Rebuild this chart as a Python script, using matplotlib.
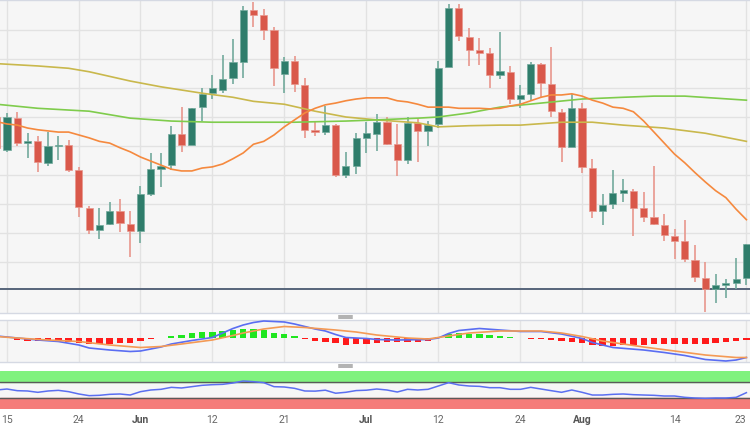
import numpy as np
import pandas as pd
import matplotlib
matplotlib.use('Agg')
import matplotlib.pyplot as plt
from matplotlib.lines import Line2D

plt.rcParams['font.family'] = ['Roboto', 'DejaVu Sans']

# daily candles, 12 May - 23 Aug 2023
dates = pd.bdate_range('2023-05-12', '2023-08-23')

opens = [0.6700, 0.6643, 0.6698, 0.6655, 0.6658, 0.6621, 0.6650, 0.6652, 0.6609, 0.6543, 0.6505, 0.6516, 0.6538, 0.6516,
         0.6504, 0.6567, 0.6610, 0.6617, 0.6671, 0.6652, 0.6717, 0.6741, 0.6747, 0.6767, 0.6795, 0.6884, 0.6876, 0.6850,
         0.6774, 0.6797, 0.6755, 0.6678, 0.6674, 0.6686, 0.6600, 0.6616,
         0.6664, 0.6671, 0.6691, 0.6653, 0.6626, 0.6690, 0.6676, 0.6688, 0.6786, 0.6888, 0.6838, 0.6816, 0.6810, 0.6773,
         0.6778, 0.6731, 0.6740, 0.6791, 0.6757, 0.6709, 0.6648,
         0.6715, 0.6612, 0.6538, 0.6550, 0.6569, 0.6573, 0.6543, 0.6528, 0.6514, 0.6495, 0.6486, 0.6454, 0.6423, 0.6403,
         0.6410, 0.6414, 0.6423]
highs = [0.6707, 0.6707, 0.6709, 0.6672, 0.6667, 0.6674, 0.6667, 0.6660, 0.6614, 0.6547, 0.6543, 0.6553, 0.6559, 0.6538,
         0.6581, 0.6638, 0.6638, 0.6684, 0.6717, 0.6715, 0.6750, 0.6773, 0.6807, 0.6835, 0.6891, 0.6898, 0.6886, 0.6855,
         0.6803, 0.6805, 0.6767, 0.6691, 0.6719, 0.6688, 0.6640, 0.6672,
         0.6691, 0.6705, 0.6700, 0.6688, 0.6700, 0.6697, 0.6693, 0.6797, 0.6895, 0.6895, 0.6854, 0.6836, 0.6819, 0.6847,
         0.6788, 0.6755, 0.6795, 0.6793, 0.6821, 0.6714, 0.6740,
         0.6724, 0.6628, 0.6567, 0.6609, 0.6593, 0.6576, 0.6571, 0.6616, 0.6533, 0.6507, 0.6523, 0.6479, 0.6450, 0.6429,
         0.6421, 0.6457, 0.6481]
lows = [0.6643, 0.6640, 0.6650, 0.6629, 0.6605, 0.6616, 0.6626, 0.6605, 0.6528, 0.6498, 0.6490, 0.6514, 0.6502, 0.6459,
        0.6483, 0.6564, 0.6579, 0.6609, 0.6640, 0.6652, 0.6693, 0.6731, 0.6741, 0.6757, 0.6767, 0.6855, 0.6833, 0.6753,
        0.6741, 0.6743, 0.6664, 0.6667, 0.6669, 0.6597, 0.6595, 0.6602,
        0.6638, 0.6641, 0.6652, 0.6598, 0.6619, 0.6622, 0.6650, 0.6681, 0.6786, 0.6831, 0.6788, 0.6790, 0.6750, 0.6765,
        0.6722, 0.6715, 0.6729, 0.6733, 0.6700, 0.6622, 0.6648,
        0.6604, 0.6526, 0.6514, 0.6541, 0.6553, 0.6495, 0.6519, 0.6514, 0.6486, 0.6455, 0.6450, 0.6416, 0.6364, 0.6379,
        0.6388, 0.6403, 0.6410]
closes = [0.6647, 0.6700, 0.6655, 0.6658, 0.6622, 0.6650, 0.6652, 0.6609, 0.6545, 0.6505, 0.6514, 0.6538, 0.6517, 0.6504,
          0.6567, 0.6610, 0.6616, 0.6671, 0.6652, 0.6715, 0.6740, 0.6750, 0.6765, 0.6795, 0.6884, 0.6876, 0.6850, 0.6784,
          0.6797, 0.6757, 0.6678, 0.6674, 0.6686, 0.6600, 0.6616, 0.6664,
          0.6672, 0.6691, 0.6653, 0.6626, 0.6690, 0.6676, 0.6686, 0.6784, 0.6888, 0.6840, 0.6816, 0.6810, 0.6773, 0.6779,
          0.6731, 0.6738, 0.6791, 0.6759, 0.6710, 0.6648, 0.6715,
          0.6614, 0.6538, 0.6548, 0.6569, 0.6574, 0.6543, 0.6528, 0.6516, 0.6497, 0.6486, 0.6455, 0.6424, 0.6403, 0.6410,
          0.6414, 0.6421, 0.6481]

# moving averages (20 / 100 / 200)
sma20 = [0.6692, 0.6688, 0.6686, 0.6681, 0.6678, 0.6676, 0.6674, 0.6674, 0.6669, 0.6664, 0.6658, 0.6655, 0.6647, 0.6640,
         0.6631, 0.6624, 0.6617, 0.6610, 0.6607, 0.6607, 0.6612, 0.6614, 0.6619, 0.6628, 0.6638, 0.6653, 0.6658, 0.6669,
         0.6683, 0.6695, 0.6707, 0.6715, 0.6721, 0.6724, 0.6728, 0.6731, 0.6733, 0.6733, 0.6733, 0.6728, 0.6726, 0.6722,
         0.6717, 0.6717, 0.6717, 0.6715, 0.6715, 0.6715, 0.6714, 0.6715, 0.6719, 0.6722, 0.6728, 0.6734, 0.6738, 0.6738,
         0.6740, 0.6736, 0.6729, 0.6724, 0.6717, 0.6715, 0.6709, 0.6693, 0.6674, 0.6655, 0.6636, 0.6621, 0.6604, 0.6588,
         0.6573, 0.6561, 0.6541, 0.6523]
sma100_pos = [0, 4, 9, 13, 17, 21, 29, 34, 37, 41, 43, 46, 49, 53, 57, 61, 64, 67, 73]
sma100 = [0.6722, 0.6715, 0.6710, 0.6698, 0.6693, 0.6691, 0.6691, 0.6693, 0.6695, 0.6698, 0.6700, 0.6707, 0.6717,
          0.6724, 0.6731, 0.6734, 0.6736, 0.6736, 0.6729]
sma200_pos = [0, 4, 7, 9, 13, 16, 20, 23, 25, 28, 31, 34, 37, 41, 43, 46, 49, 51, 55, 58, 61, 65, 69, 73]
sma200 = [0.6792, 0.6788, 0.6784, 0.6778, 0.6762, 0.6752, 0.6741, 0.6734, 0.6727, 0.6722, 0.6710, 0.6700, 0.6695,
          0.6690, 0.6683, 0.6685, 0.6686, 0.6686, 0.6691, 0.6691, 0.6686, 0.6681, 0.6672, 0.6658]
support_level = 0.6403
grid_levels = [0.6450, 0.6500, 0.6550, 0.6600, 0.6650, 0.6700, 0.6750, 0.6800, 0.6850]

# MACD panel
macd_hist = [0.0002, 0.0001, -0.0003, -0.0005, -0.0005, -0.0005, -0.0006, -0.0007, -0.0009, -0.0011, -0.0011, -0.0011,
             -0.0009, -0.0009, -0.0005, -0.0001, 0.0001, 0.0005, 0.0007, 0.0010, 0.0013, 0.0013, 0.0014, 0.0016, 0.0018,
             0.0019, 0.0016, 0.0011, 0.0009, 0.0005, -0.0001, -0.0006, -0.0007, -0.0010, -0.0013, -0.0012, -0.0011,
             -0.0009, -0.0007, -0.0008, -0.0007, -0.0007, -0.0005, 0.0003, 0.0008, 0.0010, 0.0009, 0.0008, 0.0006,
             0.0004, 0.0002, 0.0001, -0.0001, -0.0001, -0.0004, -0.0006, -0.0007, -0.0010, -0.0014, -0.0015, -0.0015,
             -0.0014, -0.0013, -0.0013, -0.0012, -0.0012, -0.0012, -0.0011, -0.0011, -0.0011, -0.0010, -0.0008,
             -0.0006, -0.0003]
macd_pos = [0, 2, 4, 6, 8, 9, 11, 13, 14, 16, 17, 19, 21, 22, 23, 24, 25, 26, 28, 29, 31, 32, 33, 34, 36, 37, 39, 42,
            43, 44, 45, 47, 49, 51, 53, 55, 57, 58, 60, 63, 65, 67, 69, 71, 72, 73]
macd_line = [0.0004, 0.0000, -0.0004, -0.0007, -0.0014, -0.0020, -0.0024, -0.0027, -0.0026, -0.0018, -0.0012, -0.0005,
             0.0001, 0.0010, 0.0019, 0.0026, 0.0031, 0.0034, 0.0032, 0.0028, 0.0018, 0.0014, 0.0007, 0.0001, -0.0001,
             -0.0003, -0.0004, -0.0003, 0.0000, 0.0009, 0.0015, 0.0019, 0.0016, 0.0013, 0.0013, 0.0008, -0.0001,
             -0.0009, -0.0019, -0.0024, -0.0029, -0.0035, -0.0043, -0.0046, -0.0044, -0.0039]
signal_pos = [0, 2, 5, 8, 11, 14, 16, 18, 21, 23, 24, 26, 28, 30, 33, 35, 37, 40, 42, 44, 46, 49, 53, 55, 57, 59, 63,
              66, 69, 72, 73]
signal_line = [0.0003, 0.0000, -0.0004, -0.0007, -0.0014, -0.0019, -0.0017, -0.0012, -0.0004, 0.0005, 0.0010, 0.0018,
               0.0023, 0.0021, 0.0016, 0.0012, 0.0006, 0.0000, -0.0002, 0.0004, 0.0010, 0.0014, 0.0014, 0.0010,
               0.0003, -0.0006, -0.0018, -0.0026, -0.0034, -0.0039, -0.0039]

# RSI panel
rsi = [50.0, 52.6, 48.2, 47.4, 43.9, 47.4, 49.1, 45.6, 39.5, 35.1, 36.0, 38.6, 39.5, 36.8, 45.6, 50.0, 51.8, 57.0, 55.3,
       58.8, 62.3, 64.0, 64.9, 68.4, 73.7, 71.9, 69.3, 58.8, 57.9, 54.4, 47.4, 47.0, 49.5, 41.5, 44.0, 48.5, 49.5, 52.6,
       50.0, 44.7, 51.8, 50.0, 51.8, 60.5, 69.3, 63.2, 60.5, 59.6, 56.1, 56.1, 51.8, 51.8, 57.0, 52.6, 48.2, 43.9, 50.0,
       43.9, 36.8, 36.8, 38.6, 39.5, 37.7, 36.8, 36.0, 34.2, 34.2, 30.7, 28.9, 28.1, 28.9, 28.9, 30.7, 43.0]

tick_dates = ['2023-05-15', '2023-05-24', '2023-06-01', '2023-06-12', '2023-06-21', '2023-07-03',
              '2023-07-12', '2023-07-24', '2023-08-01', '2023-08-14', '2023-08-23']
tick_labels = ['15', '24', 'Jun', '12', '21', 'Jul', '12', '24', 'Aug', '14', '23']

W, H = 750, 430
fig = plt.figure(figsize=(W / 100, H / 100), dpi=100)
fig.patch.set_facecolor('white')


def panel(top, bottom):
    a = fig.add_axes([0, 1 - bottom / H, 1, (bottom - top) / H])
    a.set_facecolor('#f6f6f6')
    for s in ('left', 'right'):
        a.spines[s].set_visible(False)
    for s in ('top', 'bottom'):
        a.spines[s].set_color('#d5d9e3')
        a.spines[s].set_linewidth(1)
    a.tick_params(length=0, labelleft=False, labelbottom=False)
    return a


x = np.arange(len(dates))
xlim = (0.32, 73.35)
tick_pos = [dates.get_loc(pd.Timestamp(d)) for d in tick_dates]

# ---- price panel
ax = panel(0, 313)
o, h, l, c = map(np.array, (opens, highs, lows, closes))
up = c >= o
body_col = np.where(up, '#2f7d6b', '#d9584a')
wick_col = np.where(up, '#72aa9c', '#e8978d')
ax.vlines(x, l, h, colors=wick_col, lw=1.2, zorder=3)
ax.bar(x, np.maximum(np.abs(c - o), 0.00012), bottom=np.minimum(o, c), width=0.7,
       color=body_col, edgecolor=wick_col, linewidth=0.5, zorder=4)
ax.plot(sma200_pos, sma200, color='#c9b84c', lw=1.2, zorder=5)
ax.plot(sma100_pos, sma100, color='#7fcc4c', lw=1.2, zorder=5)
ax.plot(x, sma20, color='#f5893e', lw=1.2, zorder=5)
ax.axhline(support_level, color='#56657a', lw=1.4, zorder=2)
ax.set_yticks(grid_levels)
ax.set_xticks(tick_pos)
ax.grid(color='#e2e2e2', lw=1, zorder=0)
ax.set_axisbelow(True)
ax.set_xlim(*xlim)
ax.set_ylim(0.63621, 0.69017)

# ---- MACD panel
ax_m = panel(320, 362)
hist = np.array(macd_hist)
ax_m.bar(x, hist, width=0.62, color=np.where(hist >= 0, '#1fe61f', '#ff1a1a'), zorder=3)
ax_m.plot(macd_pos, macd_line, color='#5a6df2', lw=1.2, zorder=4)
ax_m.plot(signal_pos, signal_line, color='#f49a55', lw=1.2, zorder=4)
ax_m.set_xticks(tick_pos)
ax_m.set_yticks([])
ax_m.grid(axis='x', color='#e4e4e4', lw=1, zorder=0)
ax_m.set_axisbelow(True)
ax_m.set_xlim(*xlim)
ax_m.set_ylim(-0.0048, 0.0036)

# ---- RSI panel
ax_r = panel(371, 409)
ax_r.axhspan(70, 100, color='#80f27e', zorder=1)
ax_r.axhspan(0, 30, color='#f57c7a', zorder=1)
ax_r.axhline(70, color='#5a5a5a', lw=1, zorder=2)
ax_r.axhline(30, color='#5a5a5a', lw=1, zorder=2)
ax_r.plot(x, rsi, color='#5b6ff0', lw=1.1, zorder=3)
ax_r.set_xlim(*xlim)
ax_r.set_ylim(0, 100)
ax_r.set_yticks([])
ax_r.spines['top'].set_visible(False)
ax_r.spines['bottom'].set_visible(False)
ax_r.set_xticks(tick_pos)
ax_r.set_xticklabels(tick_labels)
ax_r.tick_params(axis='x', length=0, pad=4, labelbottom=True, labelsize=7.5, labelcolor='#666666')
labels = ax_r.get_xticklabels()
for t in labels:
    if t.get_text().isalpha():
        t.set_fontweight('bold')
        t.set_color('#555555')
labels[-1].set_horizontalalignment('right')  # keep the last date inside the frame

# panel resize handles
for yy in (315.5, 364.5):
    for dy in (0, 2):
        fig.add_artist(Line2D([339 / W, 352 / W], [1 - (yy + dy) / H] * 2, color='#9c9c9c', lw=1.1))

fig.savefig('out.png', dpi=100, facecolor='white')
